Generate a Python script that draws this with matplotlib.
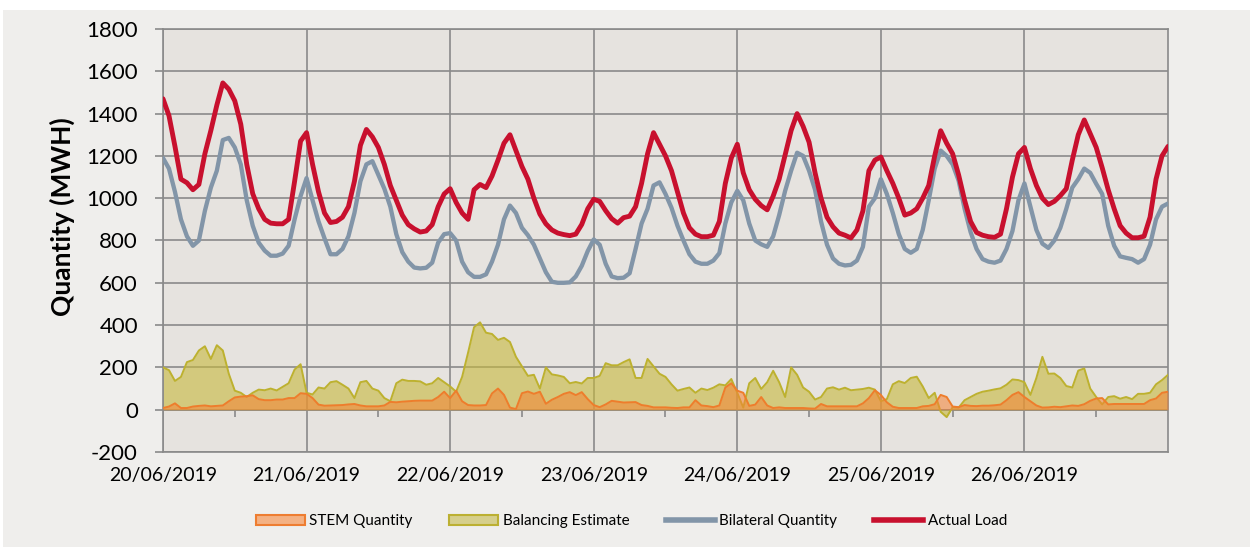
import matplotlib.pyplot as plt
import numpy as np
from matplotlib.patches import Patch, Rectangle
from matplotlib.lines import Line2D

plt.rcParams['font.family'] = ['Lato', 'DejaVu Sans']
plt.rcParams['axes.unicode_minus'] = False

dates = ['20/06/2019', '21/06/2019', '22/06/2019', '23/06/2019',
         '24/06/2019', '25/06/2019', '26/06/2019']

# hourly values (MWh), one row per day, last value = 00:00 on 27/06
actual_load = [
    1470, 1390, 1245, 1090, 1073, 1040, 1065, 1210, 1320, 1440, 1545, 1515, 1460, 1350, 1160, 1021, 950, 900, 882, 879, 879, 900, 1080, 1270,
    1310, 1160, 1030, 930, 885, 890, 910, 960, 1080, 1250, 1325, 1290, 1240, 1160, 1060, 990, 920, 875, 855, 840, 845, 875, 960, 1020,
    1045, 980, 930, 900, 1040, 1065, 1050, 1105, 1180, 1260, 1300, 1225, 1150, 1090, 1000, 925, 879, 850, 835, 828, 823, 830, 876, 950,
    995, 985, 941, 903, 882, 908, 915, 960, 1070, 1210, 1310, 1255, 1200, 1130, 1030, 930, 860, 830, 818, 818, 825, 890, 1070, 1190,
    1255, 1120, 1040, 995, 965, 945, 1010, 1090, 1205, 1320, 1400, 1340, 1265, 1120, 1000, 910, 865, 835, 825, 812, 850, 940, 1130, 1180,
    1195, 1130, 1070, 1000, 920, 930, 950, 1000, 1060, 1200, 1319, 1260, 1210, 1110, 990, 890, 838, 825, 818, 815, 830, 950, 1100, 1210,
    1240, 1140, 1060, 1000, 970, 985, 1012, 1045, 1180, 1300, 1370, 1305, 1240, 1144, 1040, 950, 870, 835, 813, 813, 820, 910, 1090, 1200,
    1245,
]

bilateral = [
    1190, 1140, 1030, 900, 820, 775, 800, 940, 1050, 1130, 1275, 1285, 1240, 1160, 990, 870, 790, 752, 728, 728, 738, 775, 900, 1010,
    1095, 990, 890, 810, 735, 735, 760, 820, 930, 1080, 1160, 1175, 1110, 1045, 960, 830, 745, 700, 672, 668, 671, 695, 790, 830,
    835, 800, 700, 650, 628, 628, 640, 700, 780, 900, 965, 930, 860, 825, 780, 715, 650, 605, 600, 600, 602, 630, 680, 750,
    805, 780, 690, 630, 622, 624, 645, 760, 880, 950, 1060, 1075, 1020, 955, 870, 800, 735, 700, 690, 690, 705, 740, 880, 980,
    1035, 990, 880, 800, 782, 770, 820, 920, 1035, 1130, 1215, 1200, 1130, 1040, 890, 780, 715, 690, 682, 685, 705, 770, 960, 1000,
    1090, 1020, 930, 830, 760, 742, 760, 850, 990, 1140, 1225, 1200, 1160, 1083, 950, 840, 760, 712, 700, 695, 705, 760, 845, 990,
    1070, 960, 850, 785, 765, 800, 860, 950, 1050, 1090, 1140, 1120, 1068, 1020, 870, 775, 725, 718, 712, 695, 712, 780, 900, 960,
    975,
]

balancing = [
    200, 187, 136, 155, 225, 235, 280, 300, 240, 305, 280, 170, 90, 80, 60, 80, 95, 92, 100, 91, 108, 125, 190, 215,
    80, 72, 105, 100, 130, 135, 118, 100, 55, 130, 136, 100, 90, 55, 40, 125, 142, 136, 136, 134, 118, 125, 150, 130,
    110, 85, 155, 270, 390, 413, 364, 358, 330, 340, 320, 250, 205, 160, 165, 100, 200, 167, 162, 155, 125, 131, 124, 150,
    150, 160, 220, 210, 210, 225, 238, 150, 150, 240, 205, 170, 155, 120, 90, 98, 105, 80, 100, 93, 104, 120, 115, 145,
    80, 10, 125, 150, 98, 130, 184, 130, 60, 200, 165, 105, 85, 48, 60, 100, 106, 95, 104, 92, 95, 98, 104, 95,
    40, 50, 120, 135, 126, 150, 156, 110, 55, 80, -10, -35, 12, 10, 45, 60, 75, 85, 90, 96, 101, 118, 143, 140,
    130, 70, 150, 250, 170, 171, 150, 112, 105, 185, 195, 100, 60, 25, 60, 64, 52, 60, 50, 75, 75, 80, 120, 140,
    165,
]

stem = [
    8, 15, 30, 8, 8, 15, 18, 20, 16, 18, 20, 40, 58, 62, 64, 68, 50, 45, 45, 48, 48, 55, 55, 78,
    75, 55, 24, 19, 20, 21, 22, 25, 27, 20, 16, 16, 16, 20, 37, 35, 38, 40, 42, 43, 43, 43, 60, 85,
    55, 90, 40, 22, 20, 20, 22, 77, 100, 70, 10, 3, 78, 86, 75, 85, 28, 47, 60, 75, 83, 69, 83, 50,
    22, 12, 25, 42, 38, 34, 35, 36, 22, 18, 11, 11, 11, 9, 8, 11, 11, 45, 20, 17, 12, 20, 105, 125,
    90, 80, 18, 24, 60, 20, 8, 11, 8, 8, 8, 8, 6, 5, 27, 16, 16, 16, 16, 16, 16, 30, 55, 92,
    70, 35, 14, 8, 8, 8, 8, 16, 18, 26, 70, 60, 15, 12, 22, 18, 17, 19, 19, 21, 24, 45, 70, 83,
    60, 40, 20, 10, 11, 14, 12, 16, 20, 18, 26, 42, 53, 55, 25, 27, 27, 27, 27, 27, 27, 45, 53, 80,
    85,
]

hours = np.arange(len(actual_load))
n_days = len(dates)
grid_col = '#8a8a8a'

fig = plt.figure(figsize=(12.5, 5.47), dpi=100, facecolor='white')
fig.patches.append(Rectangle((3 / 1250, 0), 1, 1 - 10 / 547, transform=fig.transFigure,
                             facecolor='#efeeec', edgecolor='none', zorder=-10))

ax = fig.add_axes([163 / 1250, 1 - 452 / 547, 1005 / 1250, 423 / 547])
ax.set_facecolor('#e6e3df')

# areas
ax.fill_between(hours, balancing, color=(0.78, 0.725, 0.235), alpha=0.6, lw=0, zorder=2)
ax.plot(hours, balancing, color='#bdb12f', lw=1.4, zorder=3)
ax.fill_between(hours, stem, color=(0.96, 0.51, 0.2), alpha=0.55, lw=0, zorder=4)
ax.plot(hours, stem, color='#ee7d2c', lw=1.4, zorder=5)

# lines
ax.plot(hours, bilateral, color='#8295a8', lw=3.1, zorder=6, solid_capstyle='round')
ax.plot(hours, actual_load, color='#c8102e', lw=3.5, zorder=7, solid_capstyle='round')

ax.set_xlim(0, 24 * n_days)
ax.set_ylim(-200, 1800)
ax.set_yticks(np.arange(-200, 1801, 200))
ax.set_xticks(np.arange(n_days) * 24)
ax.set_xticklabels(dates)

ax.set_axisbelow(True)
ax.grid(True, color=grid_col, lw=1.2)
for s in ax.spines.values():
    s.set_color(grid_col)
    s.set_linewidth(1.2)
ax.axhline(0, color=grid_col, lw=1.2, zorder=1.5)

ax.tick_params(axis='y', length=6, width=1.2, color=grid_col, pad=12, labelsize=16)
ax.tick_params(axis='x', length=0, pad=11, labelsize=14)

# small ticks at noon on the zero line
sec = ax.secondary_xaxis((0 - (-200)) / 2000)
sec.set_xticks(np.arange(n_days) * 24 + 12)
sec.set_xticklabels([])
sec.tick_params(length=5, width=1.2, color=grid_col)
for s in sec.spines.values():
    s.set_visible(False)

fig.text(62 / 1250, 1 - 217 / 547, 'Quantity (MWH)', rotation=90, ha='center', va='center',
         fontsize=19, fontweight='bold')

handles = [
    Patch(facecolor='#f4b183', edgecolor='#ee7d31', lw=1.5),
    Patch(facecolor='#d6cf8c', edgecolor='#bcb032', lw=1.5),
    Line2D([], [], color='#8295a8', lw=4),
    Line2D([], [], color='#c8102e', lw=4),
]
labels = ['STEM Quantity', 'Balancing Estimate', 'Bilateral Quantity', 'Actual Load']
fig.legend(handles, labels, loc='center', bbox_to_anchor=(0.505, 0.047), ncol=4,
           frameon=False, fontsize=11, handlelength=3.2, handletextpad=0.3, columnspacing=2.4)

fig.savefig('out.png', dpi=100, facecolor=fig.get_facecolor())
